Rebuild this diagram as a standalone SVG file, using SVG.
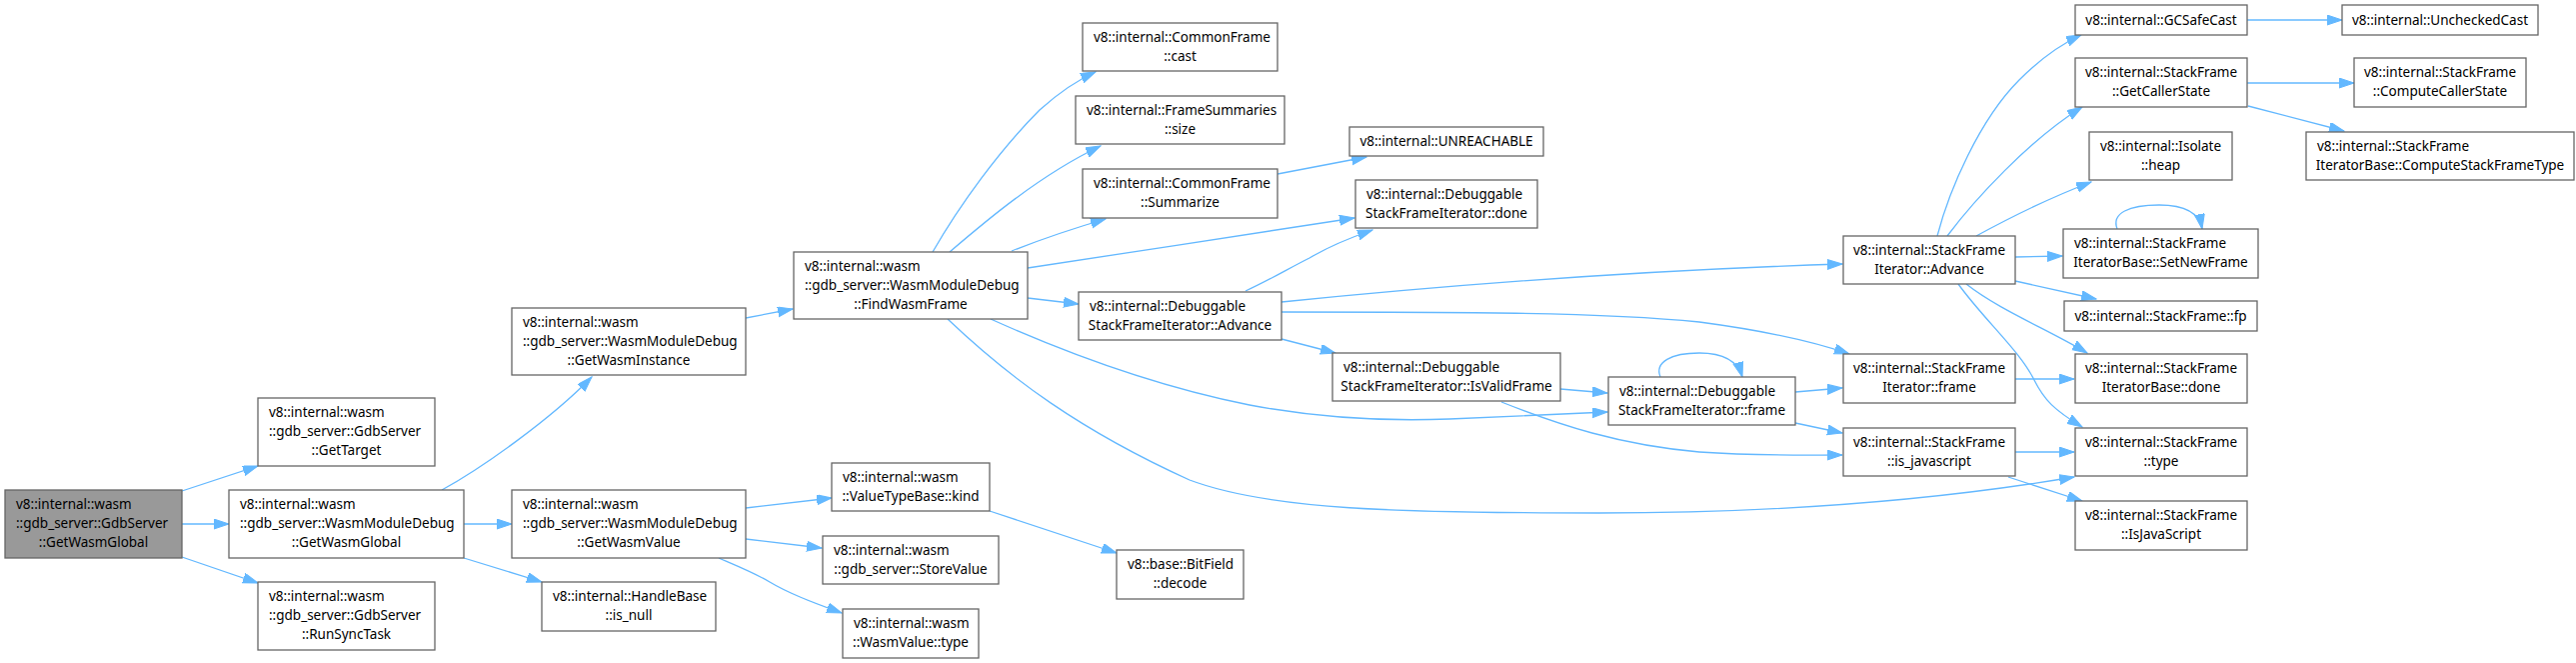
<svg xmlns="http://www.w3.org/2000/svg" width="2577" height="663" viewBox="0 0 2577 663">
<style>
.n rect{fill:#ffffff;stroke:#666666;stroke-width:1.3}
.n.root rect{fill:#999999}
.n text{font-family:"Noto Sans","Open Sans",sans-serif;font-size:13.5px;fill:#000000}
.n .m{text-anchor:middle}
.e path{fill:none;stroke:#63b8ff;stroke-width:1.3;marker-end:url(#ah)}
</style>
<defs>
<marker id="ah" markerUnits="userSpaceOnUse" markerWidth="16" markerHeight="12" refX="15" refY="5" orient="auto">
<path d="M0,0 L15,5 L0,10 z" fill="#63b8ff" stroke="#63b8ff" stroke-width="1"/>
</marker>
</defs>
<rect width="2577" height="663" fill="#ffffff"/>
<g id="edges" class="e">
<path d="M182,491 L258,466"/>
<path d="M182,524 L229,524"/>
<path d="M182,557 L258,583"/>
<path d="M442,490 C482,468 550,420 592,377"/>
<path d="M464,524 L512,524"/>
<path d="M464,558 L542,582"/>
<path d="M746,318 L793,309"/>
<path d="M746,508 L832,498"/>
<path d="M746,539 L822,548"/>
<path d="M719,558 C740,567 755,573 770,582 C790,594 815,603 842,613"/>
<path d="M990,511 L1117,553"/>
<path d="M933,252 C960,205 1000,150 1040,110 C1060,92 1078,80 1096,72"/>
<path d="M950,252 C985,222 1040,175 1101,146"/>
<path d="M1012,251 C1040,240 1075,228 1106,219"/>
<path d="M1028,268 C1130,253 1260,232 1355,218"/>
<path d="M1028,298 L1079,304"/>
<path d="M991,319 C1060,350 1150,385 1250,405 C1330,420 1400,421 1450,419 C1500,417 1560,414 1608,412"/>
<path d="M948,319 C1010,378 1080,430 1190,480 C1270,510 1400,513 1600,513 C1800,513 1950,498 2075,477"/>
<path d="M1278,174 C1300,170 1330,164 1367,157"/>
<path d="M1246,291 C1270,280 1290,268 1310,258 C1330,246 1350,238 1373,230"/>
<path d="M1282,302 C1450,285 1650,270 1843,264"/>
<path d="M1282,312 C1450,312 1600,312 1700,322 C1760,330 1810,340 1850,354"/>
<path d="M1282,339 L1336,353"/>
<path d="M1561,389 L1608,393"/>
<path d="M1502,402 C1560,425 1620,445 1700,452 C1760,456 1800,455 1843,455"/>
<path d="M1661,377 C1655,362 1672,353 1700,353 C1722,353 1738,360 1743,377"/>
<path d="M1796,392 L1843,388"/>
<path d="M1796,423 L1843,433"/>
<path d="M1938,236 C1950,190 1980,120 2020,80 C2040,60 2060,45 2082,35"/>
<path d="M1948,236 C1975,200 2030,140 2083,107"/>
<path d="M1977,236 C2010,218 2050,198 2092,182"/>
<path d="M2016,257 L2063,256"/>
<path d="M2016,281 L2097,299"/>
<path d="M1967,284 C2000,310 2050,330 2088,353"/>
<path d="M1959,284 C1985,320 2020,350 2035,380 C2045,400 2055,410 2083,427"/>
<path d="M2248,20 L2343,20"/>
<path d="M2248,83 L2355,83"/>
<path d="M2249,106 L2345,131"/>
<path d="M2118,229 C2112,213 2130,205 2160,205 C2185,205 2200,212 2203,229"/>
<path d="M2016,379 L2075,379"/>
<path d="M2016,452 L2075,452"/>
<path d="M2009,477 L2083,501"/>
</g>
<g id="root" class="n root"><rect x="5" y="490" width="177" height="68"/><text x="16" y="509">v8::internal::wasm</text><text x="16" y="528">::gdb_server::GdbServer</text><text class="m" x="93.5" y="547">::GetWasmGlobal</text></g>
<g id="getTarget" class="n"><rect x="258" y="398" width="177" height="68"/><text x="269" y="417">v8::internal::wasm</text><text x="269" y="436">::gdb_server::GdbServer</text><text class="m" x="346.5" y="455">::GetTarget</text></g>
<g id="wmdGetWasmGlobal" class="n"><rect x="229" y="490" width="235" height="68"/><text x="240" y="509">v8::internal::wasm</text><text x="240" y="528">::gdb_server::WasmModuleDebug</text><text class="m" x="346.5" y="547">::GetWasmGlobal</text></g>
<g id="runSyncTask" class="n"><rect x="258" y="582" width="177" height="68"/><text x="269" y="601">v8::internal::wasm</text><text x="269" y="620">::gdb_server::GdbServer</text><text class="m" x="346.5" y="639">::RunSyncTask</text></g>
<g id="getWasmInstance" class="n"><rect x="512" y="308" width="234" height="67"/><text x="523" y="327">v8::internal::wasm</text><text x="523" y="346">::gdb_server::WasmModuleDebug</text><text class="m" x="629" y="365">::GetWasmInstance</text></g>
<g id="getWasmValue" class="n"><rect x="512" y="490" width="234" height="68"/><text x="523" y="509">v8::internal::wasm</text><text x="523" y="528">::gdb_server::WasmModuleDebug</text><text class="m" x="629" y="547">::GetWasmValue</text></g>
<g id="isNull" class="n"><rect x="542" y="582" width="174" height="49"/><text x="553" y="601">v8::internal::HandleBase</text><text class="m" x="629" y="620">::is_null</text></g>
<g id="findWasmFrame" class="n"><rect x="794" y="252" width="234" height="67"/><text x="805" y="271">v8::internal::wasm</text><text x="805" y="290">::gdb_server::WasmModuleDebug</text><text class="m" x="911" y="309">::FindWasmFrame</text></g>
<g id="kind" class="n"><rect x="832" y="463" width="158" height="48"/><text x="843" y="482">v8::internal::wasm</text><text class="m" x="911" y="501">::ValueTypeBase::kind</text></g>
<g id="storeValue" class="n"><rect x="823" y="536" width="176" height="48"/><text x="834" y="555">v8::internal::wasm</text><text class="m" x="911" y="574">::gdb_server::StoreValue</text></g>
<g id="wasmValueType" class="n"><rect x="843" y="609" width="136" height="49"/><text x="854" y="628">v8::internal::wasm</text><text class="m" x="911" y="647">::WasmValue::type</text></g>
<g id="bitFieldDecode" class="n"><rect x="1117" y="550" width="127" height="49"/><text x="1128" y="569">v8::base::BitField</text><text class="m" x="1180.5" y="588">::decode</text></g>
<g id="commonFrameCast" class="n"><rect x="1083" y="23" width="195" height="48"/><text x="1094" y="42">v8::internal::CommonFrame</text><text class="m" x="1180.5" y="61">::cast</text></g>
<g id="frameSummariesSize" class="n"><rect x="1076" y="96" width="209" height="48"/><text x="1087" y="115">v8::internal::FrameSummaries</text><text class="m" x="1180.5" y="134">::size</text></g>
<g id="summarize" class="n"><rect x="1083" y="169" width="195" height="49"/><text x="1094" y="188">v8::internal::CommonFrame</text><text class="m" x="1180.5" y="207">::Summarize</text></g>
<g id="dsfiAdvance" class="n"><rect x="1079" y="292" width="203" height="48"/><text x="1090" y="311">v8::internal::Debuggable</text><text class="m" x="1180.5" y="330">StackFrameIterator::Advance</text></g>
<g id="unreachable" class="n"><rect x="1350" y="127" width="194" height="29"/><text class="m" x="1447" y="146">v8::internal::UNREACHABLE</text></g>
<g id="dsfiDone" class="n"><rect x="1356" y="180" width="182" height="48"/><text x="1367" y="199">v8::internal::Debuggable</text><text class="m" x="1447" y="218">StackFrameIterator::done</text></g>
<g id="isValidFrame" class="n"><rect x="1333" y="353" width="228" height="48"/><text x="1344" y="372">v8::internal::Debuggable</text><text class="m" x="1447" y="391">StackFrameIterator::IsValidFrame</text></g>
<g id="dsfiFrame" class="n"><rect x="1609" y="377" width="187" height="48"/><text x="1620" y="396">v8::internal::Debuggable</text><text class="m" x="1702.5" y="415">StackFrameIterator::frame</text></g>
<g id="sfiAdvance" class="n"><rect x="1844" y="236" width="172" height="48"/><text x="1854" y="255">v8::internal::StackFrame</text><text class="m" x="1930" y="274">Iterator::Advance</text></g>
<g id="sfiFrame" class="n"><rect x="1844" y="354" width="172" height="49"/><text x="1854" y="373">v8::internal::StackFrame</text><text class="m" x="1930" y="392">Iterator::frame</text></g>
<g id="isJavascriptLower" class="n"><rect x="1844" y="428" width="172" height="48"/><text x="1854" y="447">v8::internal::StackFrame</text><text class="m" x="1930" y="466">::is_javascript</text></g>
<g id="gcSafeCast" class="n"><rect x="2076" y="5" width="172" height="30"/><text class="m" x="2162" y="25">v8::internal::GCSafeCast</text></g>
<g id="uncheckedCast" class="n"><rect x="2343" y="5" width="196" height="30"/><text class="m" x="2441" y="25">v8::internal::UncheckedCast</text></g>
<g id="getCallerState" class="n"><rect x="2076" y="58" width="172" height="49"/><text x="2086" y="77">v8::internal::StackFrame</text><text class="m" x="2162" y="96">::GetCallerState</text></g>
<g id="computeCallerState" class="n"><rect x="2355" y="58" width="172" height="49"/><text x="2365" y="77">v8::internal::StackFrame</text><text class="m" x="2441" y="96">::ComputeCallerState</text></g>
<g id="computeStackFrameType" class="n"><rect x="2307" y="132" width="268" height="48"/><text x="2318" y="151">v8::internal::StackFrame</text><text class="m" x="2441" y="170">IteratorBase::ComputeStackFrameType</text></g>
<g id="isolateHeap" class="n"><rect x="2090" y="132" width="143" height="48"/><text x="2101" y="151">v8::internal::Isolate</text><text class="m" x="2161.5" y="170">::heap</text></g>
<g id="setNewFrame" class="n"><rect x="2064" y="229" width="195" height="49"/><text x="2075" y="248">v8::internal::StackFrame</text><text class="m" x="2161.5" y="267">IteratorBase::SetNewFrame</text></g>
<g id="stackFrameFp" class="n"><rect x="2065" y="301" width="193" height="30"/><text class="m" x="2161.5" y="321">v8::internal::StackFrame::fp</text></g>
<g id="sfibDone" class="n"><rect x="2076" y="354" width="172" height="49"/><text x="2086" y="373">v8::internal::StackFrame</text><text class="m" x="2162" y="392">IteratorBase::done</text></g>
<g id="stackFrameType" class="n"><rect x="2076" y="428" width="172" height="48"/><text x="2086" y="447">v8::internal::StackFrame</text><text class="m" x="2162" y="466">::type</text></g>
<g id="isJavaScriptUpper" class="n"><rect x="2076" y="501" width="172" height="49"/><text x="2086" y="520">v8::internal::StackFrame</text><text class="m" x="2162" y="539">::IsJavaScript</text></g>
</svg>
